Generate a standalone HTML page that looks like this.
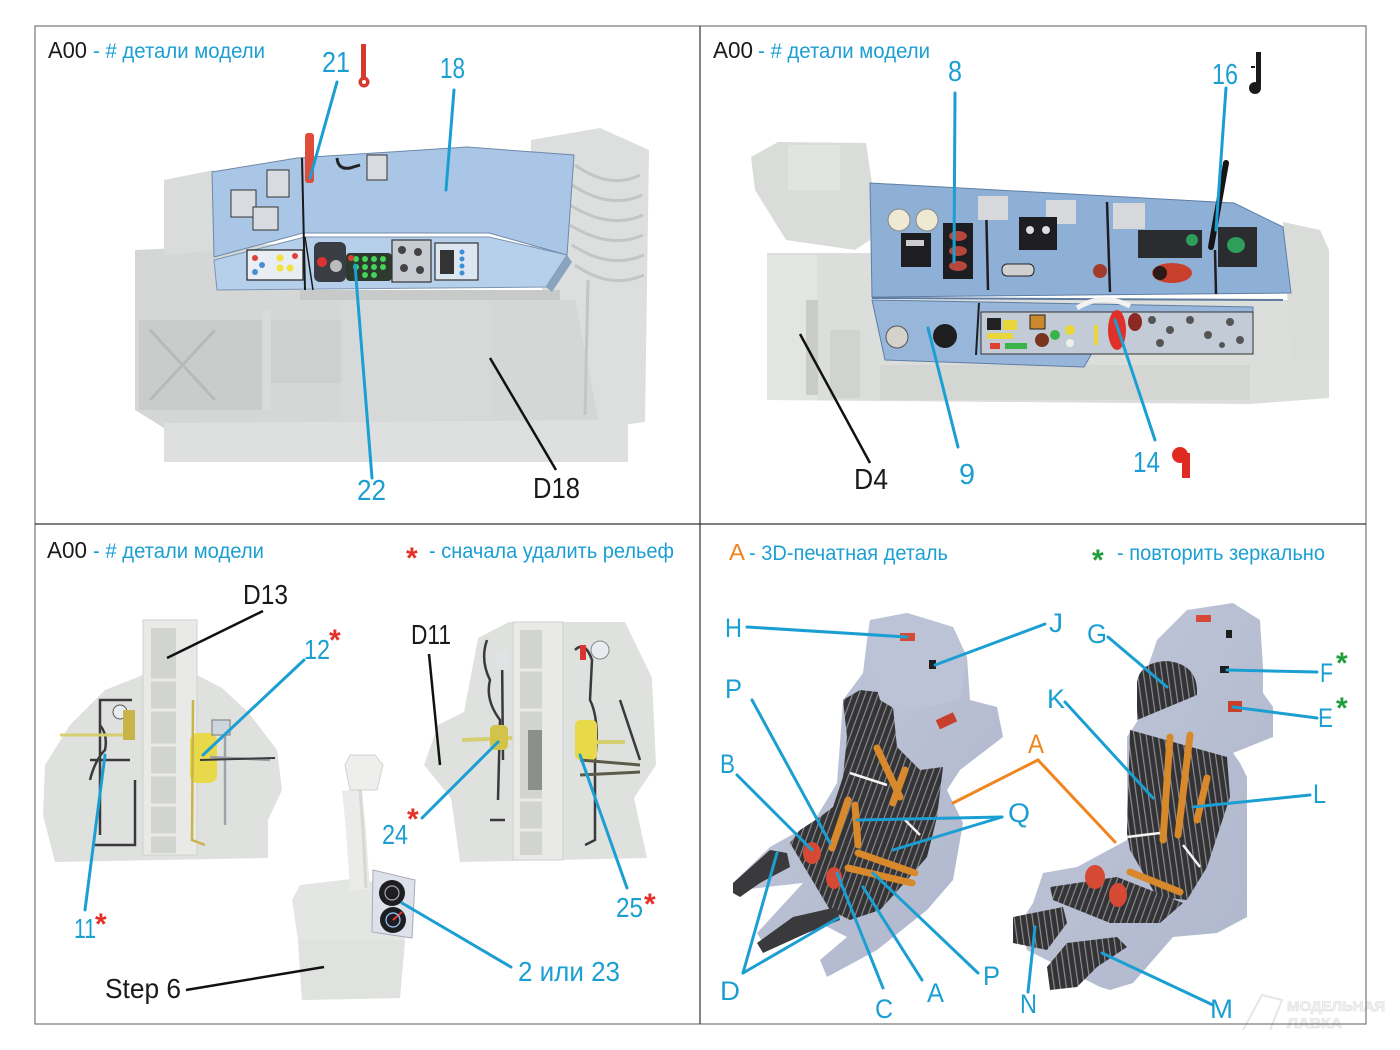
<!DOCTYPE html>
<html><head><meta charset="utf-8"><style>
html,body{margin:0;padding:0;background:#fff;}
svg{display:block;}
text{font-family:"Liberation Sans",Arial,sans-serif;}
</style></head><body>
<svg width="1400" height="1050" viewBox="0 0 1400 1050" xmlns="http://www.w3.org/2000/svg">
<defs>
<radialGradient id="fadeG" cx="50%" cy="50%" r="60%"><stop offset="0" stop-color="#d7dad8"/><stop offset="0.8" stop-color="#d9dcda"/><stop offset="1" stop-color="#eef0ef"/></radialGradient>
<linearGradient id="seatG" x1="0" y1="0" x2="1" y2="1"><stop offset="0" stop-color="#c2c8da"/><stop offset="1" stop-color="#aeb6cc"/></linearGradient>
<pattern id="stitch" width="6" height="6" patternUnits="userSpaceOnUse" patternTransform="rotate(20)"><rect width="6" height="6" fill="#343436"/><rect x="0" y="0" width="1.2" height="6" fill="#8a8a8e"/></pattern>
<pattern id="stitch2" width="6" height="6" patternUnits="userSpaceOnUse" patternTransform="rotate(-8)"><rect width="6" height="6" fill="#333335"/><rect x="0" y="0" width="1.2" height="6" fill="#8d8d92"/></pattern>
</defs>
<rect width="1400" height="1050" fill="#fff"/>

<!-- ============ PANEL 1 ============ -->
<g>
<!-- resin body -->
<polygon points="135,250 300,243 300,300 560,300 628,250 628,425 164,428 135,410" fill="#d4d7d6"/>
<polygon points="164,423 628,420 628,462 164,462" fill="#dde0df"/>
<polygon points="164,180 214,170 214,250 164,256" fill="#d9dcdb"/>
<polygon points="531,140 600,128 649,150 645,422 600,428 575,300 545,300 531,250" fill="#dcdfde"/>
<g stroke="#c3c6c5" stroke-width="3" fill="none">
<path d="M575,165 Q610,190 640,175"/><path d="M572,185 Q610,210 642,195"/><path d="M570,205 Q610,230 643,215"/><path d="M570,225 Q610,250 643,235"/><path d="M572,245 Q610,270 644,255"/><path d="M575,265 Q610,290 644,275"/>
<path d="M588,280 L585,415"/>
</g>
<rect x="139" y="320" width="123" height="90" fill="#c9cccb"/>
<path d="M150,330 L215,400 M215,330 L150,400" stroke="#b7bab9" stroke-width="3"/>
<rect x="271" y="320" width="70" height="63" fill="#cdd0cf"/>
<rect x="262" y="310" width="9" height="100" fill="#d8dbda"/>
<rect x="300" y="290" width="260" height="10" fill="#c7cac9"/>
<polygon points="341,300 490,300 490,420 341,420" fill="#d6d9d8"/>
<!-- blue back panel -->
<polygon points="212,172 297,158 467,147 574,155 567,255 489,233 303,233 214,257" fill="#aac6e6" stroke="#6d88a8" stroke-width="1"/>
<!-- console -->
<polygon points="214,260 305,237 489,237 567,255 546,287 217,290" fill="#b6d0eb" stroke="#7b93b0" stroke-width="1"/>
<polygon points="546,287 567,255 572,262 552,292" fill="#8aa3bf"/>
<!-- details back -->
<g fill="#d8dbdf" stroke="#333" stroke-width="1">
<rect x="231" y="190" width="25" height="27"/><rect x="267" y="170" width="22" height="27"/><rect x="253" y="207" width="25" height="23"/><rect x="367" y="155" width="20" height="25"/>
</g>
<path d="M337,158 Q338,170 350,168 L360,165" stroke="#222" stroke-width="3" fill="none"/>
<line x1="302" y1="158" x2="305" y2="290" stroke="#1a1a1a" stroke-width="2"/>
<rect x="305" y="133" width="9" height="50" rx="3" fill="#df4c3a"/>
<!-- console details -->
<rect x="247" y="250" width="56" height="30" fill="#e8eef4" stroke="#222" stroke-width="1.2"/>
<circle cx="255" cy="258" r="3" fill="#e0403a"/><circle cx="262" cy="265" r="3" fill="#4a8ed0"/><circle cx="255" cy="272" r="3" fill="#4a8ed0"/>
<circle cx="280" cy="258" r="3.5" fill="#f2e23a"/><circle cx="280" cy="268" r="3.5" fill="#f2e23a"/><circle cx="290" cy="268" r="3.5" fill="#f2e23a"/><circle cx="295" cy="256" r="3" fill="#e0403a"/>
<rect x="314" y="242" width="32" height="40" fill="#3b3d44" rx="6"/>
<circle cx="322" cy="262" r="5" fill="#d33"/><circle cx="336" cy="266" r="6" fill="#bbb"/>
<rect x="346" y="253" width="46" height="28" fill="#2e3a2e" rx="4"/>
<g fill="#43d25a"><circle cx="356" cy="259" r="3"/><circle cx="365" cy="259" r="3"/><circle cx="374" cy="259" r="3"/><circle cx="383" cy="259" r="3"/><circle cx="356" cy="267" r="3"/><circle cx="365" cy="267" r="3"/><circle cx="374" cy="267" r="3"/><circle cx="383" cy="267" r="3"/><circle cx="365" cy="275" r="3"/><circle cx="374" cy="275" r="3"/></g>
<circle cx="351" cy="258" r="3" fill="#e04030"/>
<rect x="392" y="240" width="39" height="42" fill="#c7ccd3" stroke="#333" stroke-width="1.2"/>
<g fill="#444"><circle cx="402" cy="250" r="4"/><circle cx="418" cy="252" r="4"/><circle cx="404" cy="268" r="4"/><circle cx="420" cy="270" r="4"/></g>
<rect x="435" y="243" width="43" height="37" fill="#dce6f0" stroke="#333" stroke-width="1.2"/>
<rect x="440" y="250" width="14" height="24" fill="#333"/>
<g fill="#3c8fd4"><circle cx="462" cy="252" r="2.5"/><circle cx="462" cy="259" r="2.5"/><circle cx="462" cy="266" r="2.5"/><circle cx="462" cy="273" r="2.5"/></g>
<line x1="305" y1="237" x2="313" y2="290" stroke="#1a1a1a" stroke-width="1.5"/>
</g>
<!-- P1 labels -->
<text x="48" y="58" font-size="23" fill="#1a1a1a" textLength="39" lengthAdjust="spacingAndGlyphs">A00</text>
<text x="93" y="58" font-size="21" fill="#1b9fd3" textLength="172" lengthAdjust="spacingAndGlyphs">- # детали модели</text>
<rect x="361" y="44" width="5" height="36" fill="#d63a2e"/>
<circle cx="364" cy="82" r="5.5" fill="#d63a2e"/><circle cx="364" cy="82" r="2" fill="#fff"/>
<text x="322" y="72" font-size="29" fill="#1b9fd3" textLength="28" lengthAdjust="spacingAndGlyphs">21</text>
<text x="440" y="78" font-size="29" fill="#1b9fd3" textLength="25" lengthAdjust="spacingAndGlyphs">18</text>
<text x="357" y="500" font-size="29" fill="#1b9fd3" textLength="29" lengthAdjust="spacingAndGlyphs">22</text>
<text x="533" y="498" font-size="29" fill="#1a1a1a" textLength="47" lengthAdjust="spacingAndGlyphs">D18</text>
<g stroke="#1b9fd3" stroke-width="3" stroke-linecap="round">
<line x1="337" y1="82" x2="310" y2="178"/>
<line x1="454" y1="90" x2="446" y2="190"/>
<line x1="372" y1="478" x2="355" y2="265"/>
</g>
<line x1="556" y1="470" x2="490" y2="358" stroke="#111" stroke-width="2.5"/>

<!-- ============ PANEL 2 ============ -->
<g>
<polygon points="767,253 872,253 872,300 1290,300 1329,330 1329,398 1250,404 767,400" fill="#dcdedb"/>
<polygon points="751,157 778,142 866,143 872,183 870,240 855,250 786,240 755,190" fill="#d9dcd8"/>
<rect x="788" y="145" width="52" height="45" fill="#e2e4e1"/>
<polygon points="1283,222 1320,230 1329,250 1329,360 1291,360" fill="#d9dcd8"/>
<rect x="767" y="255" width="50" height="145" fill="#e3e5e2"/>
<rect x="806" y="300" width="12" height="95" fill="#c9ccc8"/>
<rect x="830" y="330" width="30" height="68" fill="#d0d3cf"/>
<rect x="880" y="365" width="370" height="35" fill="#d3d6d2"/>
<!-- blue back -->
<polygon points="870,183 1234,203 1283,227 1291,293 872,297" fill="#8fb0d6" stroke="#5e7ea5" stroke-width="1"/>
<!-- lower console -->
<polygon points="872,300 1253,307 1253,350 1092,353 1084,367 885,360" fill="#97b6da" stroke="#5e7ea5" stroke-width="1"/>
<line x1="872" y1="298" x2="1283" y2="300" stroke="#5d7aa0" stroke-width="2"/>
<!-- back details -->
<circle cx="899" cy="220" r="11" fill="#efe9d3" stroke="#888" stroke-width="1"/>
<circle cx="927" cy="220" r="11" fill="#efe9d3" stroke="#888" stroke-width="1"/>
<rect x="901" y="233" width="30" height="34" fill="#1e1e22"/><rect x="906" y="240" width="18" height="6" fill="#ccc"/>
<rect x="943" y="223" width="30" height="56" fill="#1e1e22"/>
<ellipse cx="958" cy="236" rx="9" ry="5" fill="#b5483b"/><ellipse cx="958" cy="251" rx="9" ry="5" fill="#b5483b"/><ellipse cx="958" cy="266" rx="9" ry="5" fill="#b5483b"/>
<line x1="986" y1="200" x2="988" y2="290" stroke="#1e1e22" stroke-width="2.5"/>
<rect x="978" y="196" width="30" height="24" fill="#d6d8db"/>
<rect x="1046" y="200" width="30" height="24" fill="#d6d8db"/>
<rect x="1113" y="203" width="32" height="26" fill="#d6d8db"/>
<rect x="1019" y="217" width="38" height="33" fill="#1e1e22"/><circle cx="1030" cy="230" r="4" fill="#ddd"/><circle cx="1046" cy="230" r="4" fill="#ddd"/>
<rect x="1002" y="264" width="32" height="12" rx="5" fill="#d0d0d0" stroke="#222"/>
<line x1="1107" y1="202" x2="1110" y2="292" stroke="#1e1e22" stroke-width="2.5"/>
<circle cx="1100" cy="271" r="7" fill="#a33b2c"/>
<rect x="1138" y="230" width="64" height="28" fill="#2a2c30"/><circle cx="1192" cy="240" r="6" fill="#2e9e5a"/>
<ellipse cx="1172" cy="273" rx="20" ry="10" fill="#c8402c"/><circle cx="1160" cy="273" r="7" fill="#2a1a18"/>
<rect x="1218" y="227" width="39" height="40" fill="#2a2c30"/><ellipse cx="1236" cy="245" rx="9" ry="8" fill="#2e9e5a"/>
<line x1="1226" y1="163" x2="1211" y2="247" stroke="#151515" stroke-width="6" stroke-linecap="round"/>
<line x1="1215" y1="250" x2="1216" y2="294" stroke="#1e1e22" stroke-width="2.5"/>
<!-- console details -->
<circle cx="897" cy="337" r="11" fill="#d4d2cb" stroke="#555"/>
<circle cx="945" cy="336" r="12" fill="#1e1e1e"/>
<line x1="979" y1="303" x2="976" y2="355" stroke="#1e1e22" stroke-width="2"/>
<rect x="981" y="312" width="272" height="42" fill="#c3ccd6" stroke="#333" stroke-width="1"/>
<rect x="987" y="318" width="14" height="12" fill="#222"/><rect x="1003" y="320" width="14" height="10" fill="#e8d63a"/><rect x="987" y="333" width="26" height="6" fill="#e8d63a"/>
<rect x="990" y="343" width="10" height="6" fill="#e04030"/><rect x="1005" y="343" width="22" height="6" fill="#3bb34a"/>
<rect x="1030" y="315" width="15" height="14" fill="#c9892c" stroke="#222"/>
<circle cx="1042" cy="340" r="7" fill="#7a3520"/><circle cx="1055" cy="335" r="5" fill="#3bb34a"/>
<circle cx="1070" cy="330" r="5" fill="#e8d63a"/><circle cx="1070" cy="343" r="4" fill="#eee"/>
<path d="M1077,308 Q1103,292 1130,306" stroke="#f2f2f2" stroke-width="5" fill="none"/>
<ellipse cx="1117" cy="330" rx="9" ry="20" fill="#e0302a"/><ellipse cx="1135" cy="322" rx="7" ry="9" fill="#8b2a22"/>
<rect x="1094" y="325" width="4" height="20" fill="#e8d63a"/>
<g fill="#555"><circle cx="1152" cy="320" r="4"/><circle cx="1170" cy="330" r="4"/><circle cx="1190" cy="320" r="4"/><circle cx="1208" cy="335" r="4"/><circle cx="1230" cy="322" r="4"/><circle cx="1240" cy="340" r="4"/><circle cx="1160" cy="343" r="4"/><circle cx="1222" cy="345" r="3"/></g>
</g>
<!-- P2 labels -->
<text x="713" y="58" font-size="23" fill="#1a1a1a" textLength="40" lengthAdjust="spacingAndGlyphs">A00</text>
<text x="758" y="58" font-size="21" fill="#1b9fd3" textLength="172" lengthAdjust="spacingAndGlyphs">- # детали модели</text>
<text x="948" y="81" font-size="29" fill="#1b9fd3" textLength="14" lengthAdjust="spacingAndGlyphs">8</text>
<text x="1212" y="84" font-size="29" fill="#1b9fd3" textLength="26" lengthAdjust="spacingAndGlyphs">16</text>
<rect x="1256" y="52" width="5" height="34" fill="#1a1a1a"/><circle cx="1255" cy="88" r="6" fill="#1a1a1a"/><rect x="1251" y="66" width="4" height="2" fill="#1a1a1a"/>
<text x="959" y="484" font-size="29" fill="#1b9fd3" textLength="16" lengthAdjust="spacingAndGlyphs">9</text>
<text x="1133" y="472" font-size="29" fill="#1b9fd3" textLength="27" lengthAdjust="spacingAndGlyphs">14</text>
<circle cx="1180" cy="455" r="8" fill="#e02a20"/><rect x="1182" y="453" width="8" height="25" fill="#e02a20"/>
<text x="854" y="489" font-size="29" fill="#1a1a1a" textLength="34" lengthAdjust="spacingAndGlyphs">D4</text>
<g stroke="#1b9fd3" stroke-width="3" stroke-linecap="round">
<line x1="955" y1="93" x2="954" y2="262"/>
<line x1="1226" y1="88" x2="1216" y2="230"/>
<line x1="958" y1="447" x2="928" y2="328"/>
<line x1="1155" y1="440" x2="1115" y2="320"/>
</g>
<line x1="870" y1="463" x2="800" y2="334" stroke="#111" stroke-width="2.5"/>

<!-- ============ PANEL 3 ============ -->
<g>
<polygon points="45,765 70,725 105,690 143,675 143,620 197,620 197,675 222,688 248,712 277,750 282,790 268,820 268,858 55,862 43,815" fill="#dfe1de"/>
<rect x="143" y="620" width="54" height="235" fill="#e9eae7" stroke="#cfd1cd"/>
<rect x="151" y="628" width="25" height="225" fill="#d2d4d1"/>
<g stroke="#e9eae7" stroke-width="3"><line x1="151" y1="680" x2="176" y2="680"/><line x1="151" y1="710" x2="176" y2="710"/><line x1="151" y1="745" x2="176" y2="745"/><line x1="151" y1="775" x2="176" y2="775"/><line x1="151" y1="805" x2="176" y2="805"/><line x1="151" y1="835" x2="176" y2="835"/></g>
<path d="M100,835 L100,700 L132,700 M90,760 L130,760 M90,780 Q95,760 105,750 Q108,735 100,725 M92,845 L135,845 L135,780" stroke="#3a3a3c" stroke-width="2.5" fill="none"/>
<path d="M60,735 L135,735" stroke="#d6cf70" stroke-width="3"/>
<circle cx="120" cy="712" r="7" fill="#e8ecf0" stroke="#555"/>
<rect x="123" y="710" width="12" height="30" fill="#c8b448"/>
<rect x="190" y="733" width="27" height="50" rx="8" fill="#e7d94a"/>
<path d="M193,700 L192,840 L205,845" stroke="#c8b448" stroke-width="2.5" fill="none"/>
<path d="M225,730 L225,825 M210,757 L270,760" stroke="#9ea3aa" stroke-width="2.5" fill="none"/>
<rect x="212" y="720" width="18" height="15" fill="#cfd5dd" stroke="#777"/>
<path d="M200,760 L275,758" stroke="#3a3a3c" stroke-width="2"/>
<!-- right part -->
<polygon points="464,712 478,638 509,622 625,622 652,678 656,765 634,798 647,858 460,862 451,798 424,765 438,725" fill="#dfe1de"/>
<rect x="513" y="622" width="50" height="238" fill="#e9eae7" stroke="#cfd1cd"/>
<rect x="520" y="630" width="22" height="225" fill="#d2d4d1"/>
<rect x="528" y="730" width="14" height="60" fill="#8d8f8c"/>
<g stroke="#e9eae7" stroke-width="3"><line x1="520" y1="670" x2="542" y2="670"/><line x1="520" y1="710" x2="542" y2="710"/><line x1="520" y1="800" x2="542" y2="800"/><line x1="520" y1="830" x2="542" y2="830"/></g>
<path d="M487,640 Q480,660 490,680 Q485,700 500,720 L498,800 M502,650 L503,760 M490,820 L505,820 M575,650 Q585,640 592,660 L590,700 Q600,720 595,760 L595,840 L585,845 M620,700 L640,760" stroke="#3a3a3c" stroke-width="2.5" fill="none"/>
<line x1="462" y1="740" x2="512" y2="738" stroke="#d6cf70" stroke-width="4"/>
<line x1="575" y1="742" x2="625" y2="742" stroke="#d6cf70" stroke-width="4"/>
<rect x="490" y="725" width="18" height="25" rx="5" fill="#d2c44a"/>
<rect x="575" y="720" width="22" height="40" rx="5" fill="#e7d94a"/>
<circle cx="600" cy="650" r="9" fill="#e8ecf0" stroke="#888"/>
<rect x="580" y="645" width="6" height="15" fill="#d33"/>
<path d="M580,760 L640,765 M580,775 L640,772" stroke="#5c5a48" stroke-width="3"/>
<rect x="497" y="650" width="12" height="20" fill="#e0e3e6"/>
<!-- joystick -->
<polygon points="292,900 300,885 360,878 400,890 405,940 400,998 302,1000 298,940" fill="#e4e6e3"/>
<polygon points="298,940 405,940 400,998 302,1000" fill="#e0e2df"/>
<path d="M360,890 L356,830 L352,790" stroke="#ebecea" stroke-width="20" fill="none"/>
<path d="M366,888 L363,830 L360,790" stroke="#d6d8d5" stroke-width="3" fill="none"/>
<polygon points="345,765 350,755 375,755 383,765 377,790 350,790" fill="#eeefed" stroke="#d0d2cf"/>
<polygon points="373,870 415,880 412,938 372,932" fill="#dde2ea" stroke="#aab"/>
<circle cx="392" cy="893" r="13" fill="#1e1e22"/><circle cx="392" cy="893" r="7" fill="none" stroke="#aaa" stroke-width="1.2"/>
<circle cx="393" cy="920" r="13" fill="#1e1e22"/><path d="M393,920 L402,912" stroke="#e33" stroke-width="2"/><circle cx="393" cy="920" r="7" fill="none" stroke="#9cf" stroke-width="1.2"/>
</g>
<!-- P3 labels -->
<text x="47" y="558" font-size="23" fill="#1a1a1a" textLength="40" lengthAdjust="spacingAndGlyphs">A00</text>
<text x="93" y="558" font-size="21" fill="#1b9fd3" textLength="171" lengthAdjust="spacingAndGlyphs">- # детали модели</text>
<text x="406" y="568" font-size="30" font-weight="bold" fill="#e53027">*</text>
<text x="429" y="558" font-size="21" fill="#1b9fd3" textLength="245" lengthAdjust="spacingAndGlyphs">- сначала удалить рельеф</text>
<text x="243" y="604" font-size="28" fill="#1a1a1a" textLength="45" lengthAdjust="spacingAndGlyphs">D13</text>
<text x="304" y="659" font-size="28" fill="#1b9fd3" textLength="26" lengthAdjust="spacingAndGlyphs">12</text>
<text x="329" y="650" font-size="30" font-weight="bold" fill="#e53027">*</text>
<text x="411" y="644" font-size="28" fill="#1a1a1a" textLength="40" lengthAdjust="spacingAndGlyphs">D11</text>
<text x="382" y="844" font-size="28" fill="#1b9fd3" textLength="26" lengthAdjust="spacingAndGlyphs">24</text>
<text x="407" y="829" font-size="30" font-weight="bold" fill="#e53027">*</text>
<text x="616" y="917" font-size="28" fill="#1b9fd3" textLength="27" lengthAdjust="spacingAndGlyphs">25</text>
<text x="644" y="914" font-size="30" font-weight="bold" fill="#e53027">*</text>
<text x="74" y="938" font-size="28" fill="#1b9fd3" textLength="22" lengthAdjust="spacingAndGlyphs">11</text>
<text x="95" y="934" font-size="30" font-weight="bold" fill="#e53027">*</text>
<text x="518" y="981" font-size="28" fill="#1b9fd3" textLength="102" lengthAdjust="spacingAndGlyphs">2 или 23</text>
<text x="105" y="998" font-size="28" fill="#1a1a1a" textLength="76" lengthAdjust="spacingAndGlyphs">Step 6</text>
<g stroke="#1b9fd3" stroke-width="3" stroke-linecap="round">
<line x1="304" y1="660" x2="203" y2="755"/>
<line x1="422" y1="818" x2="498" y2="742"/>
<line x1="627" y1="888" x2="580" y2="755"/>
<line x1="85" y1="910" x2="105" y2="755"/>
<line x1="511" y1="967" x2="402" y2="903"/>
</g>
<g stroke="#111" stroke-width="2.5">
<line x1="263" y1="611" x2="167" y2="658"/>
<line x1="429" y1="654" x2="440" y2="765"/>
<line x1="186" y1="990" x2="324" y2="967"/>
</g>

<!-- ============ PANEL 4 ============ -->
<!-- left seat -->
<polygon points="870,620 907,613 953,627 967,657 970,700 997,707 1003,737 960,770 947,790 963,823 953,880 927,910 877,950 827,977 820,960 847,937 820,923 763,943 757,933 803,883 740,890 733,883 770,847 813,823 837,783 840,743 843,700 863,673 867,640" fill="url(#seatG)"/>
<polygon points="843,700 860,690 887,693 893,707 897,747 920,770 943,767 937,817 927,857 907,880 880,910 850,920 830,910 790,843 800,830 820,817 833,807 843,777 847,737" fill="url(#stitch)"/>
<polygon points="733,883 770,850 787,853 790,867 760,883 740,897 733,893" fill="#3a3a3c"/>
<polygon points="757,943 793,917 837,907 840,920 807,933 763,953" fill="#3a3a3c"/>
<polygon points="870,620 907,613 953,627 967,657 960,700 900,712 880,700 867,650" fill="#bcc3d7"/>
<g stroke="#d8892b" stroke-width="7" stroke-linecap="round">
<line x1="877" y1="748" x2="900" y2="797"/><line x1="905" y1="770" x2="893" y2="803"/>
<line x1="848" y1="800" x2="832" y2="848"/><line x1="855" y1="805" x2="858" y2="845"/>
<line x1="858" y1="853" x2="915" y2="873"/><line x1="848" y1="868" x2="912" y2="883"/>
</g>
<line x1="850" y1="773" x2="887" y2="785" stroke="#f4f4f4" stroke-width="2.5"/>
<line x1="903" y1="818" x2="920" y2="835" stroke="#f4f4f4" stroke-width="2.5"/>
<ellipse cx="812" cy="853" rx="9" ry="11" fill="#d64a35"/>
<ellipse cx="834" cy="878" rx="8" ry="11" fill="#d64a35"/>
<rect x="900" y="633" width="15" height="8" fill="#d64a35"/>
<rect x="929" y="660" width="7" height="9" fill="#1e1e1e"/>
<rect x="937" y="716" width="19" height="10" fill="#c8402c" transform="rotate(-25 946 721)"/>
<!-- right seat -->
<polygon points="1187,610 1233,603 1260,620 1263,667 1263,693 1273,707 1273,737 1233,753 1240,763 1247,777 1247,917 1217,933 1173,937 1133,983 1110,990 1100,987 1027,950 1020,923 1033,903 1043,873 1077,867 1127,840 1127,803 1127,737 1140,717 1140,690 1157,640" fill="url(#seatG)"/>
<path d="M1137,720 L1137,682 Q1140,662 1167,661 Q1196,664 1197,690 L1197,695 Z" fill="url(#stitch2)"/>
<polygon points="1130,730 1227,757 1230,797 1207,867 1187,900 1157,897 1130,850 1127,833" fill="url(#stitch2)"/>
<polygon points="1050,887 1117,877 1183,903 1160,923 1110,923 1053,900" fill="url(#stitch)"/>
<polygon points="1013,917 1063,907 1067,923 1047,950 1013,943" fill="url(#stitch2)"/>
<polygon points="1047,967 1067,943 1117,937 1127,947 1097,967 1077,987 1050,990" fill="url(#stitch2)"/>
<g stroke="#d8892b" stroke-width="7" stroke-linecap="round">
<line x1="1170" y1="737" x2="1163" y2="840"/><line x1="1190" y1="735" x2="1178" y2="835"/>
<line x1="1207" y1="778" x2="1197" y2="820"/><line x1="1130" y1="872" x2="1180" y2="892"/>
</g>
<line x1="1127" y1="837" x2="1160" y2="833" stroke="#f4f4f4" stroke-width="2.5"/>
<line x1="1183" y1="845" x2="1200" y2="867" stroke="#f4f4f4" stroke-width="2.5"/>
<ellipse cx="1095" cy="877" rx="10" ry="12" fill="#d64a35"/>
<ellipse cx="1118" cy="895" rx="9" ry="12" fill="#d64a35"/>
<rect x="1196" y="615" width="15" height="7" fill="#d64a35"/>
<rect x="1226" y="630" width="6" height="8" fill="#1e1e1e"/>
<rect x="1220" y="666" width="9" height="7" fill="#1e1e1e"/>
<rect x="1228" y="701" width="14" height="11" fill="#c8402c"/>
<!-- P4 labels -->
<text x="729" y="560" font-size="23" fill="#f0841e" textLength="16" lengthAdjust="spacingAndGlyphs">A</text>
<text x="749" y="560" font-size="21" fill="#1b9fd3" textLength="199" lengthAdjust="spacingAndGlyphs">- 3D-печатная деталь</text>
<text x="1092" y="570" font-size="30" font-weight="bold" fill="#1f9e3b">*</text>
<text x="1117" y="560" font-size="21" fill="#1b9fd3" textLength="208" lengthAdjust="spacingAndGlyphs">- повторить зеркально</text>
<g font-size="27" fill="#1b9fd3">
<text x="725" y="637" textLength="17" lengthAdjust="spacingAndGlyphs">H</text>
<text x="1049" y="632" textLength="14" lengthAdjust="spacingAndGlyphs">J</text>
<text x="1087" y="643" textLength="20" lengthAdjust="spacingAndGlyphs">G</text>
<text x="1320" y="682" textLength="13" lengthAdjust="spacingAndGlyphs">F</text>
<text x="1318" y="727" textLength="15" lengthAdjust="spacingAndGlyphs">E</text>
<text x="725" y="698" textLength="17" lengthAdjust="spacingAndGlyphs">P</text>
<text x="1047" y="708" textLength="18" lengthAdjust="spacingAndGlyphs">K</text>
<text x="720" y="773" textLength="15" lengthAdjust="spacingAndGlyphs">B</text>
<text x="1313" y="803" textLength="13" lengthAdjust="spacingAndGlyphs">L</text>
<text x="1008" y="822" textLength="22" lengthAdjust="spacingAndGlyphs">Q</text>
<text x="720" y="1000" textLength="20" lengthAdjust="spacingAndGlyphs">D</text>
<text x="875" y="1018" textLength="18" lengthAdjust="spacingAndGlyphs">C</text>
<text x="927" y="1002" textLength="17" lengthAdjust="spacingAndGlyphs">A</text>
<text x="983" y="985" textLength="17" lengthAdjust="spacingAndGlyphs">P</text>
<text x="1020" y="1013" textLength="17" lengthAdjust="spacingAndGlyphs">N</text>
<text x="1210" y="1018" textLength="23" lengthAdjust="spacingAndGlyphs">M</text>
</g>
<text x="1028" y="753" font-size="27" fill="#f0841e" textLength="16" lengthAdjust="spacingAndGlyphs">A</text>
<text x="1336" y="673" font-size="30" font-weight="bold" fill="#1f9e3b">*</text>
<text x="1336" y="718" font-size="30" font-weight="bold" fill="#1f9e3b">*</text>
<g stroke="#1b9fd3" stroke-width="3" stroke-linecap="round">
<line x1="747" y1="627" x2="907" y2="637"/>
<line x1="1045" y1="624" x2="935" y2="665"/>
<line x1="1108" y1="637" x2="1167" y2="687"/>
<line x1="1317" y1="672" x2="1227" y2="670"/>
<line x1="1317" y1="718" x2="1233" y2="707"/>
<line x1="752" y1="700" x2="830" y2="843"/>
<line x1="1065" y1="702" x2="1153" y2="798"/>
<line x1="737" y1="775" x2="812" y2="850"/>
<line x1="1310" y1="795" x2="1193" y2="807"/>
<line x1="1002" y1="817" x2="857" y2="820"/>
<line x1="1002" y1="817" x2="893" y2="850"/>
<line x1="743" y1="973" x2="777" y2="853"/>
<line x1="743" y1="973" x2="838" y2="918"/>
<line x1="883" y1="988" x2="837" y2="873"/>
<line x1="922" y1="980" x2="863" y2="887"/>
<line x1="978" y1="973" x2="873" y2="873"/>
<line x1="1028" y1="992" x2="1035" y2="927"/>
<line x1="1213" y1="1005" x2="1102" y2="953"/>
</g>
<g stroke="#f0841e" stroke-width="3" stroke-linecap="round" fill="none">
<polyline points="953,803 1038,760 1115,842"/>
</g>
<!-- watermark -->
<g fill="#f3f3f3" stroke="#e2e2e2" stroke-width="0.8" font-weight="bold">
<text x="1287" y="1011" font-size="14" textLength="98" lengthAdjust="spacingAndGlyphs">МОДЕЛЬНАЯ</text>
<text x="1287" y="1028" font-size="14" textLength="55" lengthAdjust="spacingAndGlyphs">ЛАВКА</text>
</g>
<path d="M1243,1030 L1262,995 L1282,1000 L1270,1030" fill="none" stroke="#e6e6e6" stroke-width="2"/>

<!-- frames -->
<rect x="35" y="26" width="1331" height="998" fill="none" stroke="#777" stroke-width="1.2"/>
<line x1="700" y1="26" x2="700" y2="1024" stroke="#333" stroke-width="1.2"/>
<line x1="35" y1="524" x2="1366" y2="524" stroke="#333" stroke-width="1.2"/>
</svg>
</body></html>
